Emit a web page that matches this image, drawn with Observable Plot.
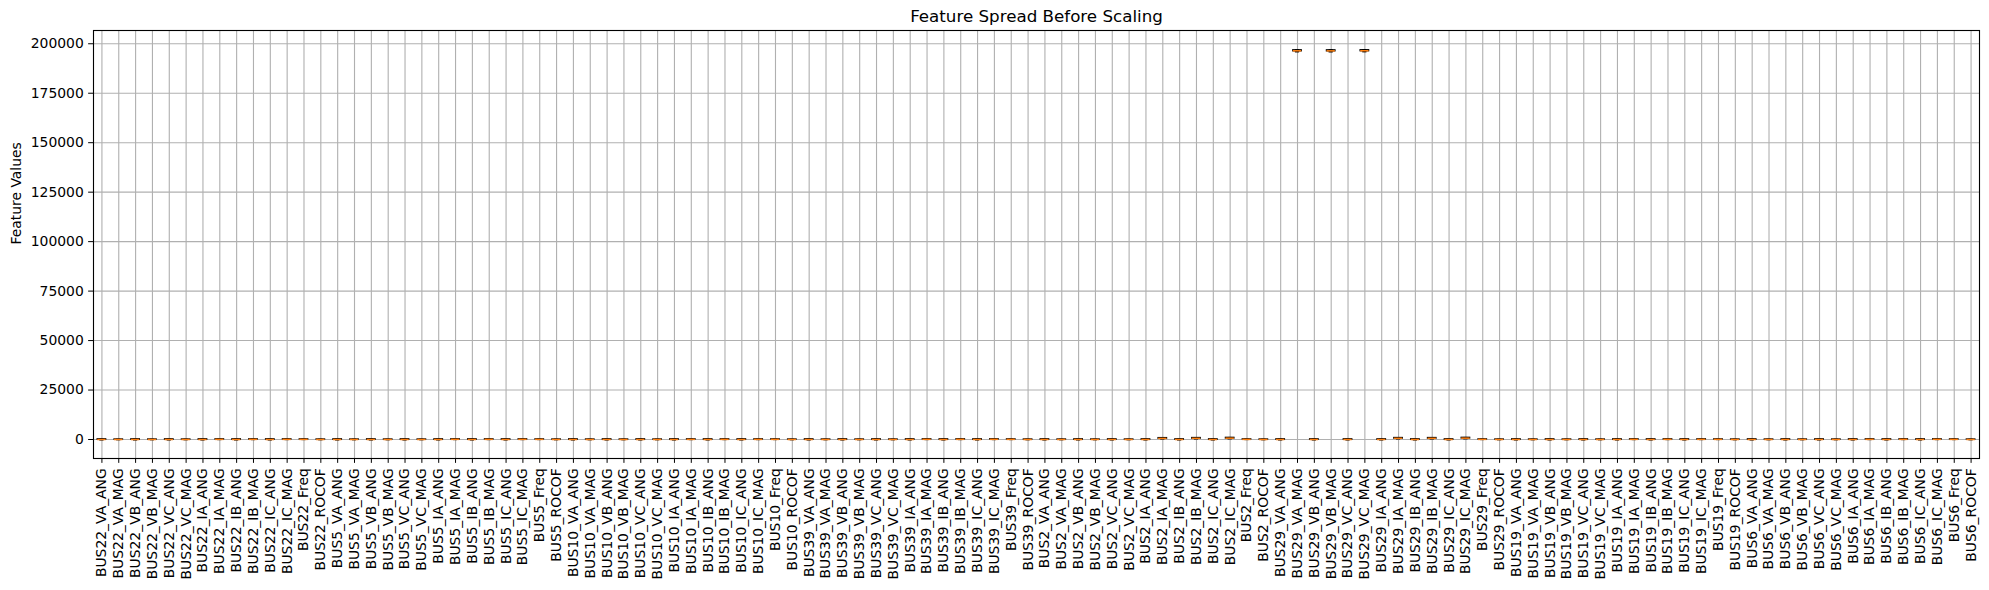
<!DOCTYPE html>
<html>
<head>
<meta charset="utf-8">
<script src="https://cdn.jsdelivr.net/npm/d3@7"></script>
<script src="https://cdn.jsdelivr.net/npm/@observablehq/plot@0.6"></script>
<style>
  html, body { margin: 0; padding: 0; background: #ffffff; }
  #chart svg { display: block; }
</style>
</head>
<body>
<div id="chart"></div>
<script>
// ---- Feature names (x categories / tick labels) ----
const features = [
  "BUS22_VA_ANG","BUS22_VA_MAG","BUS22_VB_ANG","BUS22_VB_MAG","BUS22_VC_ANG","BUS22_VC_MAG","BUS22_IA_ANG","BUS22_IA_MAG","BUS22_IB_ANG","BUS22_IB_MAG","BUS22_IC_ANG","BUS22_IC_MAG","BUS22_Freq","BUS22_ROCOF",
  "BUS5_VA_ANG","BUS5_VA_MAG","BUS5_VB_ANG","BUS5_VB_MAG","BUS5_VC_ANG","BUS5_VC_MAG","BUS5_IA_ANG","BUS5_IA_MAG","BUS5_IB_ANG","BUS5_IB_MAG","BUS5_IC_ANG","BUS5_IC_MAG","BUS5_Freq","BUS5_ROCOF",
  "BUS10_VA_ANG","BUS10_VA_MAG","BUS10_VB_ANG","BUS10_VB_MAG","BUS10_VC_ANG","BUS10_VC_MAG","BUS10_IA_ANG","BUS10_IA_MAG","BUS10_IB_ANG","BUS10_IB_MAG","BUS10_IC_ANG","BUS10_IC_MAG","BUS10_Freq","BUS10_ROCOF",
  "BUS39_VA_ANG","BUS39_VA_MAG","BUS39_VB_ANG","BUS39_VB_MAG","BUS39_VC_ANG","BUS39_VC_MAG","BUS39_IA_ANG","BUS39_IA_MAG","BUS39_IB_ANG","BUS39_IB_MAG","BUS39_IC_ANG","BUS39_IC_MAG","BUS39_Freq","BUS39_ROCOF",
  "BUS2_VA_ANG","BUS2_VA_MAG","BUS2_VB_ANG","BUS2_VB_MAG","BUS2_VC_ANG","BUS2_VC_MAG","BUS2_IA_ANG","BUS2_IA_MAG","BUS2_IB_ANG","BUS2_IB_MAG","BUS2_IC_ANG","BUS2_IC_MAG","BUS2_Freq","BUS2_ROCOF",
  "BUS29_VA_ANG","BUS29_VA_MAG","BUS29_VB_ANG","BUS29_VB_MAG","BUS29_VC_ANG","BUS29_VC_MAG","BUS29_IA_ANG","BUS29_IA_MAG","BUS29_IB_ANG","BUS29_IB_MAG","BUS29_IC_ANG","BUS29_IC_MAG","BUS29_Freq","BUS29_ROCOF",
  "BUS19_VA_ANG","BUS19_VA_MAG","BUS19_VB_ANG","BUS19_VB_MAG","BUS19_VC_ANG","BUS19_VC_MAG","BUS19_IA_ANG","BUS19_IA_MAG","BUS19_IB_ANG","BUS19_IB_MAG","BUS19_IC_ANG","BUS19_IC_MAG","BUS19_Freq","BUS19_ROCOF",
  "BUS6_VA_ANG","BUS6_VA_MAG","BUS6_VB_ANG","BUS6_VB_MAG","BUS6_VC_ANG","BUS6_VC_MAG","BUS6_IA_ANG","BUS6_IA_MAG","BUS6_IB_ANG","BUS6_IB_MAG","BUS6_IC_ANG","BUS6_IC_MAG","BUS6_Freq","BUS6_ROCOF"
];

// ---- Box statistics per feature (same order as features) ----
const whiskerLow = [
  -179.9, 0.962, -179.8, 0.958, -179.9, 0.965, -179.7, 8.4, -179.9, 9.1, -179.8, 8.7, 59.94, -0.062,
  -179.8, 0.955, -179.9, 0.961, -179.7, 0.957, -179.9, 11.2, -179.8, 10.6, -179.9, 12.0, 59.95, -0.058,
  -179.9, 0.968, -179.7, 0.964, -179.8, 0.970, -179.9, 6.9, -179.7, 7.4, -179.9, 7.1, 59.94, -0.064,
  -179.8, 0.972, -179.9, 0.969, -179.9, 0.974, -179.8, 14.3, -179.9, 13.8, -179.7, 15.1, 59.95, -0.060,
  -179.9, 0.951, -179.8, 0.947, -179.9, 0.953, -179.8, 310, -179.9, 330, -179.8, 380, 59.93, -0.071,
  -179.9, 195960, -179.8, 195940, -179.9, 195990, -179.7, 340, -179.9, 330, -179.8, 390, 59.93, -0.069,
  -179.8, 0.960, -179.9, 0.957, -179.8, 0.962, -179.9, 9.8, -179.8, 10.2, -179.9, 9.5, 59.95, -0.057,
  -179.9, 0.966, -179.8, 0.963, -179.9, 0.968, -179.7, 12.6, -179.9, 12.1, -179.8, 13.0, 59.94, -0.063
];
const q1Values = [
  -90.4, 0.991, -89.6, 0.988, -90.9, 0.993, -91.2, 41.5, -89.7, 43.2, -90.1, 42.8, 59.99, -0.011,
  -89.8, 0.987, -90.6, 0.990, -90.2, 0.986, -89.5, 48.7, -90.8, 47.9, -89.9, 50.3, 59.99, -0.010,
  -90.7, 0.994, -89.9, 0.992, -90.3, 0.996, -90.5, 36.2, -89.4, 37.8, -90.9, 36.9, 59.99, -0.012,
  -89.6, 0.997, -90.1, 0.995, -90.8, 0.998, -90.0, 55.4, -90.4, 54.1, -89.8, 57.2, 59.99, -0.011,
  -90.3, 0.982, -89.8, 0.979, -90.5, 0.984, -89.9, 420, -90.6, 445, -90.2, 505, 59.98, -0.014,
  -90.1, 196210, -90.4, 196190, -89.7, 196240, -90.6, 460, -89.9, 450, -90.3, 515, 59.98, -0.013,
  -89.9, 0.989, -90.5, 0.987, -90.0, 0.991, -90.2, 44.6, -89.6, 45.3, -90.7, 43.9, 59.99, -0.010,
  -90.6, 0.993, -89.7, 0.990, -90.4, 0.994, -89.8, 49.8, -90.1, 48.6, -90.5, 51.2, 59.99, -0.012
];
const medianValues = [
  0.6, 1.002, -1.3, 0.999, 1.4, 1.004, -0.5, 63.8, 0.8, 66.1, -1.0, 65.2, 60.00, 0.000,
  -0.4, 0.998, 1.1, 1.001, -0.9, 0.997, 0.7, 72.5, -1.2, 71.3, 0.3, 74.8, 60.00, 0.000,
  1.2, 1.005, -0.7, 1.003, 0.5, 1.007, -1.4, 57.9, 0.9, 59.6, -0.2, 58.4, 60.00, 0.001,
  -0.8, 1.008, 0.4, 1.006, -1.1, 1.009, 1.0, 81.7, -0.6, 79.8, 1.3, 83.5, 60.00, 0.000,
  0.3, 0.994, -1.0, 0.991, 0.8, 0.996, -0.3, 548, 1.2, 585, -0.8, 662, 60.00, -0.001,
  -0.6, 196440, 0.9, 196420, -1.2, 196470, 0.4, 598, -0.7, 590, 1.1, 675, 60.00, 0.000,
  0.9, 1.000, -0.4, 0.998, 1.3, 1.002, -0.9, 67.2, 0.5, 68.0, -1.3, 66.5, 60.00, 0.000,
  -1.1, 1.004, 0.6, 1.001, -0.2, 1.005, 0.8, 73.9, -1.0, 72.4, 0.2, 75.6, 60.00, 0.001
];
const q3Values = [
  90.2, 1.013, 89.8, 1.010, 90.7, 1.015, 89.9, 88.6, 90.3, 91.4, 89.5, 90.7, 60.01, 0.011,
  89.7, 1.009, 90.5, 1.012, 89.9, 1.008, 90.6, 97.1, 89.4, 95.8, 90.2, 99.6, 60.01, 0.010,
  90.8, 1.016, 89.6, 1.014, 90.4, 1.018, 89.7, 80.3, 90.9, 82.5, 90.1, 81.0, 60.01, 0.012,
  89.9, 1.019, 90.3, 1.017, 89.5, 1.020, 90.4, 108.9, 89.8, 106.2, 90.6, 111.4, 60.01, 0.011,
  90.5, 1.006, 90.0, 1.003, 89.8, 1.008, 90.3, 690, 89.7, 730, 90.8, 820, 60.02, 0.013,
  89.8, 196680, 90.6, 196660, 90.1, 196710, 89.6, 740, 90.4, 730, 89.9, 830, 60.02, 0.012,
  90.4, 1.011, 89.9, 1.009, 90.6, 1.013, 89.8, 91.5, 90.2, 92.6, 89.7, 90.1, 60.01, 0.010,
  89.6, 1.015, 90.7, 1.012, 89.9, 1.016, 90.5, 99.2, 89.6, 97.4, 90.3, 101.8, 60.01, 0.012
];
const whiskerHigh = [
  179.9, 1.041, 179.8, 1.037, 179.9, 1.044, 179.8, 139.2, 179.9, 143.0, 179.7, 141.8, 60.06, 0.061,
  179.8, 1.036, 179.9, 1.040, 179.8, 1.035, 179.9, 150.6, 179.7, 148.3, 179.9, 154.9, 60.05, 0.057,
  179.9, 1.045, 179.8, 1.042, 179.9, 1.047, 179.7, 125.8, 179.9, 129.1, 179.8, 127.4, 60.06, 0.063,
  179.7, 1.048, 179.9, 1.046, 179.8, 1.049, 179.9, 169.5, 179.8, 165.7, 179.9, 172.3, 60.05, 0.059,
  179.9, 1.032, 179.8, 1.029, 179.9, 1.034, 179.8, 800, 179.9, 850, 179.7, 940, 60.07, 0.070,
  179.8, 196920, 179.9, 196900, 179.8, 196950, 179.9, 850, 179.8, 840, 179.9, 950, 60.07, 0.068,
  179.9, 1.039, 179.7, 1.036, 179.9, 1.041, 179.8, 143.7, 179.9, 145.2, 179.8, 141.0, 60.05, 0.056,
  179.8, 1.043, 179.9, 1.040, 179.8, 1.044, 179.9, 154.1, 179.7, 151.5, 179.9, 158.2, 60.06, 0.062
];

// ---- Axis ticks and text ----
const yTicks = [0, 25000, 50000, 75000, 100000, 125000, 150000, 175000, 200000];
const titleText = ["Feature Spread Before Scaling"];
const yLabelText = ["Feature Values"];

const boxes = features.map((f, i) => ({
  feature: f,
  lo: whiskerLow[i], q1: q1Values[i], med: medianValues[i], q3: q3Values[i], hi: whiskerHigh[i]
}));

const marginLeft = 93, marginRight = 10;
const band = (1989 - marginLeft - marginRight) / features.length;
const boxInset = band * 0.25;   // box width = 0.5 band
const capInset = band * 0.375;  // cap width = 0.25 band
const lw = 1.39;                 // 1pt line
const gridColor = "#b0b0b0";

const chart = Plot.plot({
  width: 1989,
  height: 590,
  marginLeft, marginRight,
  marginTop: 30,
  marginBottom: 132,
  style: { fontFamily: "DejaVu Sans", fontSize: "13.9px", background: "#ffffff", color: "#000000" },
  x: { type: "band", domain: features, padding: 0, align: 0.5, label: null },
  y: { domain: [-9600, 206700], label: null },
  marks: [
    Plot.gridX({ stroke: gridColor, strokeOpacity: 1, strokeWidth: 1.11 }),
    Plot.gridY(yTicks, { stroke: gridColor, strokeOpacity: 1, strokeWidth: 1.11 }),
    Plot.ruleX(boxes, { x: "feature", y1: "lo", y2: "q1", stroke: "#000", strokeWidth: lw }),
    Plot.ruleX(boxes, { x: "feature", y1: "q3", y2: "hi", stroke: "#000", strokeWidth: lw }),
    Plot.tickY(boxes, { x: "feature", y: "lo", stroke: "#000", strokeWidth: lw, insetLeft: capInset, insetRight: capInset }),
    Plot.tickY(boxes, { x: "feature", y: "hi", stroke: "#000", strokeWidth: lw, insetLeft: capInset, insetRight: capInset }),
    Plot.barY(boxes, { x: "feature", y1: "q1", y2: "q3", fill: "none", stroke: "#000", strokeWidth: lw, insetLeft: boxInset, insetRight: boxInset }),
    Plot.tickY(boxes, { x: "feature", y: "med", stroke: "#ff7f0e", strokeWidth: 1.5, insetLeft: boxInset, insetRight: boxInset }),
    Plot.frame({ stroke: "#000", strokeWidth: 1.11 }),
    Plot.axisX({ tickRotate: -90, tickSize: 4.86, tickPadding: 4.86, label: null, fontSize: 13.9 }),
    Plot.axisY(yTicks, { tickFormat: d => String(d), tickSize: 4.86, tickPadding: 4.86, label: null, fontSize: 13.9 }),
    Plot.text(titleText, { text: d => d, frameAnchor: "top", dy: -13.6, fontSize: 16.7, lineAnchor: "middle" }),
    Plot.text(yLabelText, { text: d => d, frameAnchor: "left", dx: -77, rotate: -90, fontSize: 13.9, lineAnchor: "middle" })
  ]
});
document.getElementById("chart").appendChild(chart);
</script>
</body>
</html>
